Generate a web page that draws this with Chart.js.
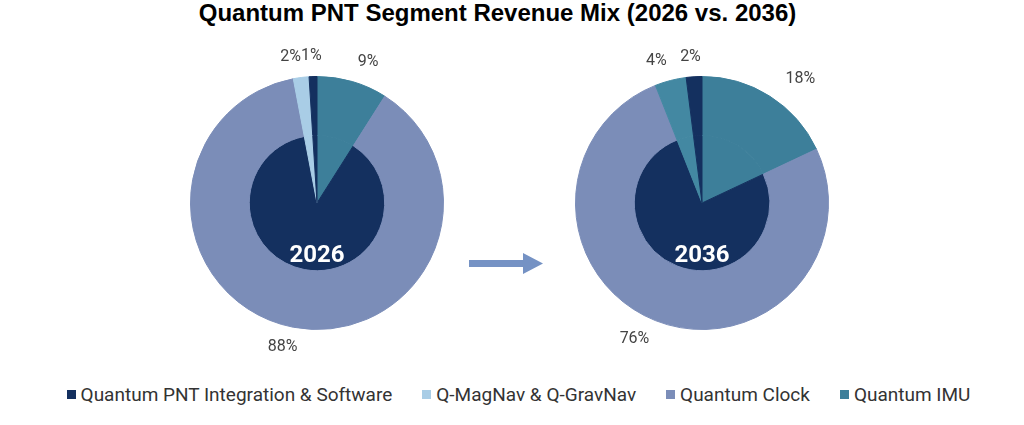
<!DOCTYPE html>
<html>
<head>
<meta charset="utf-8">
<title>Quantum PNT Segment Revenue Mix</title>
<script src="https://cdn.jsdelivr.net/npm/chart.js@4.4.1/dist/chart.umd.min.js"></script>
<style>
    body { margin: 0; background: #fff; }
    #page { position: relative; width: 1024px; height: 425px; overflow: hidden; }
    #title {
        position: absolute; left: 0; top: -1px; width: 995px; text-align: center;
        font-family: "Liberation Sans", Arial, sans-serif; font-weight: bold;
        font-size: 24px; color: #000;
    }
    .pie { position: absolute; top: 38px; }
    #pie2026 { left: 127px; }
    #pie2036 { left: 512px; }
    #arrow { position: absolute; left: 469px; top: 253px; }
    #legend {
        position: absolute; left: 13px; top: 383px; width: 1011px;
        display: flex; justify-content: center; gap: 30px;
        font-family: Roboto, "Noto Sans", sans-serif; font-size: 19px; color: #333;
    }
    .legend-item { display: flex; align-items: center; }
    .legend-box { width: 9px; height: 9px; margin-right: 5px; }
</style>
</head>
<body>
<div id="page">
    <div id="title">Quantum PNT Segment Revenue Mix (2026 vs. 2036)</div>
    <canvas id="pie2026" class="pie" width="380" height="330"></canvas>
    <canvas id="pie2036" class="pie" width="380" height="330"></canvas>
    <svg id="arrow" width="76" height="22">
        <polygon points="0,7 54,7 54,0 74,10.5 54,21 54,14 0,14" fill="#7592c4"/>
    </svg>
    <div id="legend"></div>
</div>
<script>
// Segments in legend order
const segments = ["Quantum PNT Integration & Software", "Q-MagNav & Q-GravNav", "Quantum Clock", "Quantum IMU"];
const segmentColors = ["#14305f", "#a9cde6", "#7b8db8", "#3d7f9a"];
const years = ["2026", "2036"];
const share2026 = [1, 2, 88, 9];
const share2036 = [2, 4, 76, 18];
// in the 2036 pie the MagNav slice shows up teal
const colors2036 = ["#14305f", "#4388a2", "#7b8db8", "#3d7f9a"];

const navy = "#14305f";

// Build legend
const legendEl = document.getElementById("legend");
segments.forEach((name, i) => {
    const item = document.createElement("div");
    item.className = "legend-item";
    item.innerHTML = `<span class="legend-box" style="background:${segmentColors[i]}"></span><span>${name}</span>`;
    legendEl.appendChild(item);
});

// Percent labels around the pie + year in the middle
const pieLabels = {
    id: "pieLabels",
    afterDatasetsDraw(chart, args, opts) {
        const ctx = chart.ctx;
        const meta = chart.getDatasetMeta(0);
        const values = chart.data.datasets[0].data;
        ctx.save();
        ctx.font = "16px Roboto, 'Noto Sans', sans-serif";
        ctx.fillStyle = "#444";
        ctx.textAlign = "center";
        ctx.textBaseline = "middle";

        const labels = meta.data.map((arc, i) => {
            const p = arc.getProps(["x", "y", "startAngle", "endAngle", "outerRadius"], true);
            const mid = (p.startAngle + p.endAngle) / 2;
            const text = values[i] + "%";
            return {
                text: text,
                x: p.x + Math.cos(mid) * p.outerRadius * 1.45,
                y: p.y + Math.sin(mid) * p.outerRadius * 1.16,
                w: ctx.measureText(text).width
            };
        });

        // nudge small neighbouring labels apart so they don't overlap
        labels.sort((a, b) => b.x - a.x);
        for (let i = 1; i < labels.length; i++) {
            const right = labels[i - 1], left = labels[i];
            if (Math.abs(right.y - left.y) < 16) {
                const minGap = (right.w + left.w) / 2;
                if (right.x - left.x < minGap) left.x = right.x - minGap;
            }
        }
        labels.forEach(l => ctx.fillText(l.text, l.x, l.y));

        const first = meta.data[0];
        ctx.font = "bold 24px Roboto, 'Noto Sans', sans-serif";
        ctx.fillStyle = "#fff";
        ctx.fillText(opts.year, first.x, first.y + first.outerRadius * 0.42);
        ctx.restore();
    }
};

function drawPie(canvasId, year, values, colors) {
    // slices run clockwise from 12 o'clock in reverse legend order
    const data = values.slice().reverse();
    const outerColors = colors.slice().reverse();
    // inner disc: clock slice swapped for navy so it reads as a dark centre
    const innerColors = outerColors.map((c, i) => (i === 1 ? navy : c));

    new Chart(document.getElementById(canvasId), {
        type: "pie",
        data: {
            labels: segments.slice().reverse(),
            datasets: [
                { data: data, backgroundColor: outerColors, borderColor: outerColors, borderWidth: 1, weight: 59 },
                { data: data, backgroundColor: innerColors, borderColor: innerColors, borderWidth: 1, weight: 68 }
            ]
        },
        options: {
            responsive: false,
            animation: false,
            layout: { padding: { top: 38, bottom: 38 } },
            plugins: {
                legend: { display: false },
                tooltip: { enabled: false },
                pieLabels: { year: year }
            }
        },
        plugins: [pieLabels]
    });
}

drawPie("pie2026", years[0], share2026, segmentColors);
drawPie("pie2036", years[1], share2036, colors2036);
</script>
</body>
</html>
